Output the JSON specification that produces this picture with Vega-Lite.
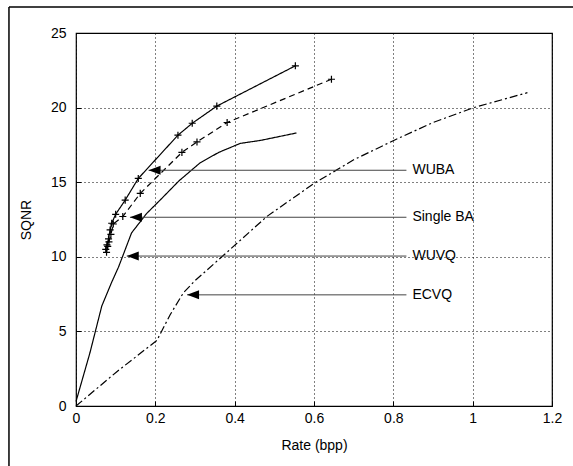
{
  "$schema": "https://vega.github.io/schema/vega-lite/v6.json",
  "autosize": "none",
  "width": 476,
  "height": 373,
  "padding": {"left": 76, "top": 33, "right": 21, "bottom": 60},
  "background": "white",
  "config": {
    "font": "Liberation Sans",
    "view": {"stroke": "black", "strokeWidth": 1.2},
    "axis": {
      "domain": false,
      "labelFlush": false,
      "labelFontSize": 14,
      "labelColor": "black",
      "titleFontSize": 14,
      "titleFontWeight": "normal",
      "titleColor": "black"
    }
  },
  "datasets": {
    "curves": [
      {"series": "WUBA", "rate": 0.075, "sqnr": 10.5},
      {"series": "WUBA", "rate": 0.078, "sqnr": 10.8},
      {"series": "WUBA", "rate": 0.082, "sqnr": 11.2},
      {"series": "WUBA", "rate": 0.086, "sqnr": 11.8},
      {"series": "WUBA", "rate": 0.09, "sqnr": 12.25},
      {"series": "WUBA", "rate": 0.1, "sqnr": 12.85},
      {"series": "WUBA", "rate": 0.124, "sqnr": 13.8},
      {"series": "WUBA", "rate": 0.157, "sqnr": 15.25},
      {"series": "WUBA", "rate": 0.257, "sqnr": 18.15},
      {"series": "WUBA", "rate": 0.293, "sqnr": 18.95},
      {"series": "WUBA", "rate": 0.355, "sqnr": 20.1},
      {"series": "WUBA", "rate": 0.553, "sqnr": 22.8},
      {"series": "Single BA", "rate": 0.077, "sqnr": 10.3},
      {"series": "Single BA", "rate": 0.08, "sqnr": 10.7},
      {"series": "Single BA", "rate": 0.083, "sqnr": 11.0},
      {"series": "Single BA", "rate": 0.088, "sqnr": 11.5},
      {"series": "Single BA", "rate": 0.094, "sqnr": 12.2},
      {"series": "Single BA", "rate": 0.118, "sqnr": 12.7},
      {"series": "Single BA", "rate": 0.162, "sqnr": 14.25},
      {"series": "Single BA", "rate": 0.267, "sqnr": 17.0},
      {"series": "Single BA", "rate": 0.305, "sqnr": 17.7},
      {"series": "Single BA", "rate": 0.381, "sqnr": 19.0},
      {"series": "Single BA", "rate": 0.644, "sqnr": 21.9},
      {"series": "WUVQ", "rate": 0.0, "sqnr": 0.3},
      {"series": "WUVQ", "rate": 0.035, "sqnr": 3.55},
      {"series": "WUVQ", "rate": 0.065, "sqnr": 6.7},
      {"series": "WUVQ", "rate": 0.09, "sqnr": 8.3},
      {"series": "WUVQ", "rate": 0.107, "sqnr": 9.3},
      {"series": "WUVQ", "rate": 0.12, "sqnr": 10.2},
      {"series": "WUVQ", "rate": 0.14, "sqnr": 11.6},
      {"series": "WUVQ", "rate": 0.178, "sqnr": 12.9},
      {"series": "WUVQ", "rate": 0.212, "sqnr": 13.8},
      {"series": "WUVQ", "rate": 0.26, "sqnr": 15.1},
      {"series": "WUVQ", "rate": 0.313, "sqnr": 16.3},
      {"series": "WUVQ", "rate": 0.36, "sqnr": 17.0},
      {"series": "WUVQ", "rate": 0.414, "sqnr": 17.6},
      {"series": "WUVQ", "rate": 0.465, "sqnr": 17.8},
      {"series": "WUVQ", "rate": 0.556, "sqnr": 18.3},
      {"series": "ECVQ", "rate": 0.0, "sqnr": 0.0},
      {"series": "ECVQ", "rate": 0.103, "sqnr": 2.3},
      {"series": "ECVQ", "rate": 0.204, "sqnr": 4.4},
      {"series": "ECVQ", "rate": 0.237, "sqnr": 6.1},
      {"series": "ECVQ", "rate": 0.271, "sqnr": 7.6},
      {"series": "ECVQ", "rate": 0.3, "sqnr": 8.4},
      {"series": "ECVQ", "rate": 0.372, "sqnr": 10.1},
      {"series": "ECVQ", "rate": 0.481, "sqnr": 12.7},
      {"series": "ECVQ", "rate": 0.599, "sqnr": 14.9},
      {"series": "ECVQ", "rate": 0.7, "sqnr": 16.5},
      {"series": "ECVQ", "rate": 0.801, "sqnr": 17.8},
      {"series": "ECVQ", "rate": 0.9, "sqnr": 19.0},
      {"series": "ECVQ", "rate": 1.003, "sqnr": 20.0},
      {"series": "ECVQ", "rate": 1.138, "sqnr": 21.0}
    ],
    "labels": [
      {"label": "WUBA", "tip": 0.183, "sqnr": 15.8},
      {"label": "Single BA", "tip": 0.136, "sqnr": 12.65},
      {"label": "WUVQ", "tip": 0.128, "sqnr": 10.05},
      {"label": "ECVQ", "tip": 0.28, "sqnr": 7.45}
    ],
    "frame": [{"x": -0.169, "x2": 1.35, "y": -6, "y2": 26.75}]
  },
  "layer": [
    {
      "data": {"name": "curves"},
      "mark": {"type": "line", "color": "black", "strokeWidth": 1.2},
      "encoding": {
        "x": {"field": "rate", "type": "quantitative", "title": "Rate (bpp)",
              "scale": {"domain": [0, 1.2], "nice": false},
              "axis": {"values": [0, 0.2, 0.4, 0.6, 0.8, 1, 1.2], "format": "~g", "labelPadding": 10, "titlePadding": 13,
                       "ticks": true, "tickSize": -5, "tickColor": "black", "tickWidth": 1,
                       "grid": true, "gridColor": "#000000", "gridDash": [1, 3], "gridOpacity": 1, "gridWidth": 1}},
        "y": {"field": "sqnr", "type": "quantitative", "title": "SQNR",
              "scale": {"domain": [0, 25], "nice": false},
              "axis": {"values": [0, 5, 10, 15, 20, 25], "labelPadding": 15, "titlePadding": 17,
                       "ticks": true, "tickSize": -5, "tickColor": "black", "tickWidth": 1,
                       "grid": true, "gridColor": "#000000", "gridDash": [1, 3], "gridOpacity": 1, "gridWidth": 1}},
        "detail": {"field": "series"},
        "strokeDash": {"field": "series", "type": "nominal", "legend": null,
                       "scale": {"domain": ["WUBA", "Single BA", "WUVQ", "ECVQ"],
                                 "range": [[1, 0], [6, 4], [1, 0], [8, 3, 2, 3]]}}
      }
    },
    {
      "data": {"name": "curves"},
      "transform": [{"filter": "datum.series === 'WUBA' || datum.series === 'Single BA'"}],
      "mark": {"type": "point", "shape": "M-1,0L1,0M0,-1L0,1", "size": 50, "stroke": "black", "strokeWidth": 1.2, "filled": false, "opacity": 1},
      "encoding": {
        "x": {"field": "rate", "type": "quantitative"},
        "y": {"field": "sqnr", "type": "quantitative"}
      }
    },
    {
      "data": {"name": "labels"},
      "mark": {"type": "rule", "color": "#444", "strokeWidth": 1},
      "encoding": {
        "x": {"field": "tip", "type": "quantitative"},
        "x2": {"datum": 0.833},
        "y": {"field": "sqnr", "type": "quantitative"}
      }
    },
    {
      "data": {"name": "labels"},
      "mark": {"type": "point", "shape": "M0,0L2,-0.75L2,0.75Z", "size": 144, "filled": true, "color": "black", "opacity": 1},
      "encoding": {
        "x": {"field": "tip", "type": "quantitative"},
        "y": {"field": "sqnr", "type": "quantitative"}
      }
    },
    {
      "data": {"name": "labels"},
      "mark": {"type": "text", "align": "left", "baseline": "middle", "dx": 6, "fontSize": 14, "color": "black"},
      "encoding": {
        "x": {"datum": 0.833},
        "y": {"field": "sqnr", "type": "quantitative"},
        "text": {"field": "label"}
      }
    },
    {
      "data": {"name": "frame"},
      "mark": {"type": "rule", "color": "black", "strokeWidth": 1.5},
      "encoding": {
        "x": {"field": "x", "type": "quantitative"},
        "y": {"field": "y", "type": "quantitative"},
        "y2": {"field": "y2"}
      }
    },
    {
      "data": {"name": "frame"},
      "mark": {"type": "rule", "color": "black", "strokeWidth": 1.5},
      "encoding": {
        "x": {"field": "x", "type": "quantitative"},
        "x2": {"field": "x2"},
        "y": {"field": "y2", "type": "quantitative"}
      }
    }
  ]
}
